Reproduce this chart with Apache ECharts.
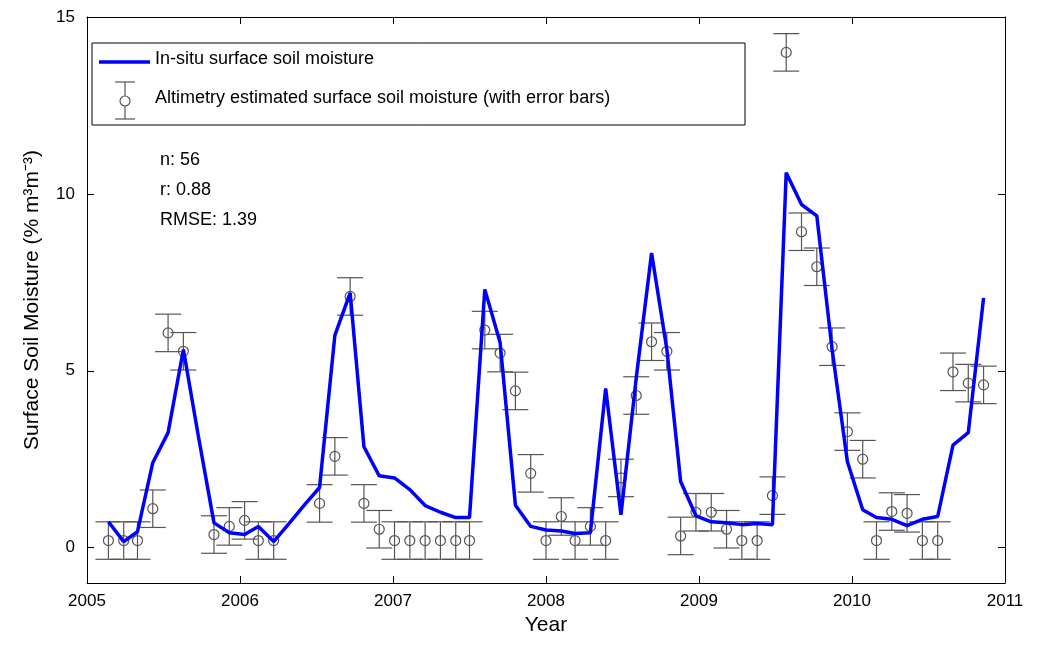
<!DOCTYPE html>
<html>
<head>
<meta charset="utf-8">
<script src="https://cdn.jsdelivr.net/npm/echarts@6/dist/echarts.min.js"></script>
<style>html,body{margin:0;background:#fff}#c{width:1056px;height:650px}</style>
</head>
<body>
<div id="c"></div>
<script>
// sample dates (decimal year), ~36 day revisit
const dates = [2005.14, 2005.24, 2005.33, 2005.43, 2005.53, 2005.63, 2005.73, 2005.83, 2005.93, 2006.03,
  2006.12, 2006.22, 2006.32, 2006.42, 2006.52, 2006.62, 2006.72, 2006.81, 2006.91, 2007.01,
  2007.11, 2007.21, 2007.31, 2007.41, 2007.50, 2007.60, 2007.70, 2007.80, 2007.90, 2008.00,
  2008.10, 2008.19, 2008.29, 2008.39, 2008.49, 2008.59, 2008.69, 2008.79, 2008.88, 2008.98,
  2009.08, 2009.18, 2009.28, 2009.38, 2009.48, 2009.57, 2009.67, 2009.77, 2009.87, 2009.97,
  2010.07, 2010.16, 2010.26, 2010.36, 2010.46, 2010.56, 2010.66, 2010.76, 2010.86];
const insitu = [0.73, 0.17, 0.45, 2.4, 3.25, 5.6, 3.1, 0.7, 0.42, 0.37,
  0.6, 0.17, 0.68, 1.2, 1.7, 6.0, 7.2, 2.85, 2.03, 1.97,
  1.64, 1.19, 1.0, 0.85, 0.85, 7.3, 5.8, 1.2, 0.6, 0.5,
  0.47, 0.4, 0.42, 4.5, 0.93, 4.8, 8.33, 5.6, 1.87, 0.9,
  0.73, 0.7, 0.65, 0.68, 0.65, 10.6, 9.7, 9.38, 5.6, 2.43,
  1.07, 0.85, 0.8, 0.62, 0.8, 0.88, 2.9, 3.25, 7.06];
// altimetry estimates (null = no estimate)
const altimetry = [0.2, 0.2, 0.2, 1.1, 6.07, 5.55, null, 0.37, 0.6, 0.77,
  0.2, 0.2, null, null, 1.25, 2.58, 7.1, 1.25, 0.52, 0.2,
  0.2, 0.2, 0.2, 0.2, 0.2, 6.15, 5.5, 4.43, 2.1, 0.2,
  0.88, 0.2, 0.6, 0.2, 1.97, 4.3, 5.82, 5.55, 0.33, 1.0,
  1.0, 0.52, 0.2, 0.2, 1.47, 14.0, 8.93, 7.94, 5.68, 3.28,
  2.5, 0.2, 1.02, 0.97, 0.2, 0.2, 4.97, 4.65, 4.6];
const errHalf = 0.53;
const yLabels = [0, 5, 10, 15];

const lineData = dates.map((d, i) => [d, insitu[i]]);
const ptData = [];
dates.forEach((d, i) => { if (altimetry[i] !== null) ptData.push([d, altimetry[i]]); });

const font = 'Liberation Sans, Arial, sans-serif';
const chart = echarts.init(document.getElementById('c'));

const axLine = { onZero: false, lineStyle: { color: '#000', width: 1 } };
const tick = { inside: true, length: 7, lineStyle: { color: '#000' } };

chart.setOption({
  animation: false,
  grid: { left: 87, right: 51, top: 17, bottom: 67 },
  xAxis: [
    { type: 'value', min: 2005, max: 2011, interval: 1,
      name: 'Year', nameLocation: 'middle', nameGap: 30,
      nameTextStyle: { fontFamily: font, fontSize: 21, color: '#000' },
      axisLine: axLine, axisTick: tick, splitLine: { show: false },
      axisLabel: { fontFamily: font, fontSize: 17, color: '#000', margin: 10, formatter: v => String(v) } },
    { type: 'value', min: 2005, max: 2011, interval: 1, position: 'top',
      axisLine: axLine, axisTick: tick, splitLine: { show: false }, axisLabel: { show: false } }
  ],
  yAxis: [
    { type: 'value', min: -1, max: 15, interval: 1,
      name: 'Surface Soil Moisture (% m³m⁻³)', nameLocation: 'middle', nameGap: 44,
      nameTextStyle: { fontFamily: font, fontSize: 21, color: '#000' },
      axisLine: axLine, splitLine: { show: false },
      axisLabel: { fontFamily: font, fontSize: 17, color: '#000', customValues: yLabels, margin: 12 },
      axisTick: Object.assign({ customValues: yLabels }, tick) },
    { type: 'value', min: -1, max: 15, interval: 1, position: 'right',
      axisLine: axLine, splitLine: { show: false }, axisLabel: { show: false },
      axisTick: Object.assign({ customValues: yLabels }, tick) }
  ],
  series: [
    {
      type: 'line', data: lineData, showSymbol: false, z: 3,
      lineStyle: { color: '#0000ff', width: 3.5 }
    },
    {
      type: 'custom', z: 2,
      data: ptData,
      renderItem: function (params, api) {
        const x = api.value(0), y = api.value(1);
        const top = api.coord([x, y + errHalf]);
        const bot = api.coord([x, y - errHalf]);
        const c = api.coord([x, y]);
        const cap = 13;
        const st = { stroke: '#555', lineWidth: 1.2, fill: null };
        return {
          type: 'group',
          children: [
            { type: 'line', shape: { x1: top[0], y1: top[1], x2: bot[0], y2: bot[1] }, style: st },
            { type: 'line', shape: { x1: top[0] - cap, y1: top[1], x2: top[0] + cap, y2: top[1] }, style: st },
            { type: 'line', shape: { x1: bot[0] - cap, y1: bot[1], x2: bot[0] + cap, y2: bot[1] }, style: st },
            { type: 'circle', shape: { cx: c[0], cy: c[1], r: 5 }, style: { stroke: '#555', lineWidth: 1.2, fill: 'rgba(255,255,255,0)' } }
          ]
        };
      }
    }
  ],
  graphic: [
    { type: 'rect', shape: { x: 92, y: 43, width: 653, height: 82 }, style: { fill: '#fff', stroke: '#000', lineWidth: 1 }, z: 10 },
    { type: 'line', shape: { x1: 99, y1: 62, x2: 150, y2: 62 }, style: { stroke: '#0000ff', lineWidth: 3.5 }, z: 11 },
    { type: 'text', left: 155, top: 50, z: 11, style: { text: 'In-situ surface soil moisture', font: '18px ' + font, fill: '#000' } },
    { type: 'line', shape: { x1: 125, y1: 82, x2: 125, y2: 119 }, style: { stroke: '#555', lineWidth: 1.2 }, z: 11 },
    { type: 'line', shape: { x1: 115, y1: 82, x2: 135, y2: 82 }, style: { stroke: '#555', lineWidth: 1.2 }, z: 11 },
    { type: 'line', shape: { x1: 115, y1: 119, x2: 135, y2: 119 }, style: { stroke: '#555', lineWidth: 1.2 }, z: 11 },
    { type: 'circle', shape: { cx: 125, cy: 101, r: 5 }, style: { stroke: '#555', lineWidth: 1.2, fill: '#fff' }, z: 12 },
    { type: 'text', left: 155, top: 89, z: 11, style: { text: 'Altimetry estimated surface soil moisture (with error bars)', font: '18px ' + font, fill: '#000' } },
    { type: 'text', left: 160, top: 145, style: { text: 'n: 56\nr: 0.88\nRMSE: 1.39', font: '18px ' + font, lineHeight: 30, fill: '#000' } }
  ]
});
</script>
</body>
</html>
